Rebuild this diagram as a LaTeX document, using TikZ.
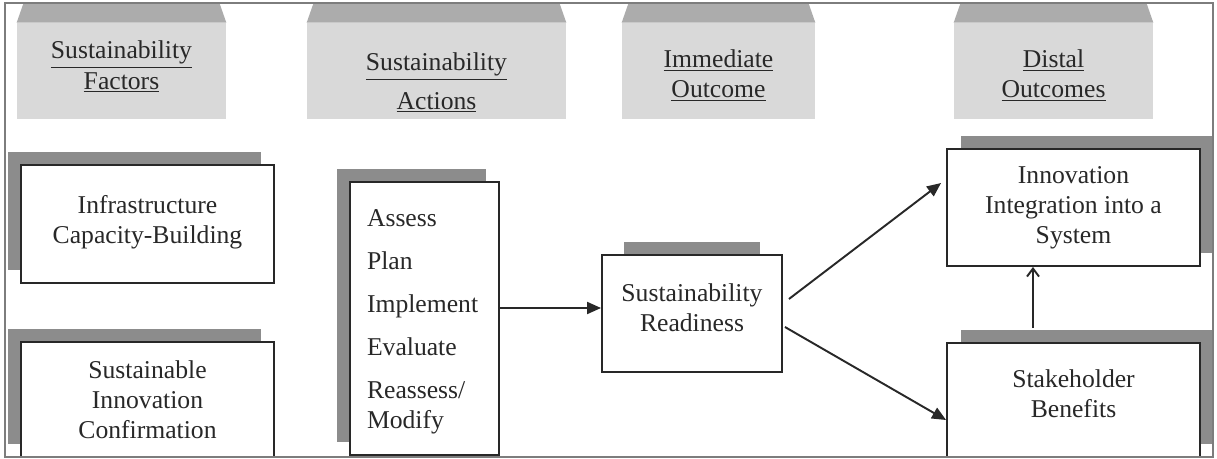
\documentclass[tikz,border=0pt]{standalone}
\usepackage{fontspec}
\setmainfont{Liberation Serif}
\usetikzlibrary{arrows.meta, calc, shadows}

\definecolor{headlight}{RGB}{217,217,217}
\definecolor{headdark}{RGB}{172,172,172}
\definecolor{shadegray}{RGB}{140,140,140}
\definecolor{framegray}{RGB}{125,125,125}
\definecolor{inkgray}{RGB}{40,40,40}

\tikzset{
  box/.style={draw=inkgray, fill=white, line width=1.1pt, align=center, text=inkgray, font=\fontsize{14.6}{17.1}\selectfont},
  lshadow/.style={drop shadow={shadow xshift=-0.26cm, shadow yshift=0.26cm, fill=shadegray, opacity=1}},
  rshadow/.style={drop shadow={shadow xshift=0.28cm, shadow yshift=0.26cm, fill=shadegray, opacity=1}},
  header/.style={fill=headlight, inner sep=0pt, minimum height=1.92cm},
  headtext/.style={align=center, text=inkgray, font=\fontsize{14.6}{17.1}\selectfont},
  arr/.style={draw=inkgray, line width=1.1pt, -{Triangle[length=0.28cm, width=0.24cm]}},
  openarr/.style={draw=inkgray, line width=1.1pt, -{Straight Barb[length=0.16cm, width=0.24cm]}}
}

\begin{document}
\begin{tikzpicture}[x=0.02cm, y=-0.02cm]
  \useasboundingbox (0,0) rectangle (1217,459);

  \begin{scope}
    \clip (5,3) rectangle (1213,457);

    \node[header, minimum width=4.18cm] (hfac) at (121.5,71) {};
    \node[header, minimum width=5.18cm] (hact) at (436.5,71) {};
    \node[header, minimum width=3.86cm] (himm) at (718.5,71) {};
    \node[header, minimum width=3.98cm] (hdis) at (1053.5,71) {};
    \foreach \h in {hfac, hact, himm, hdis} {
      \fill[headdark] (\h.north west) -- ($(\h.north west)+(7,-20)$) -- ($(\h.north east)+(-7,-20)$) -- (\h.north east) -- cycle;
    }

    \node[headtext] (hfac-t) at (121.5,67) {\underline{Sustainability}\\\underline{Factors}};
    \node[headtext] (hact-t) at (436.5,83) {\underline{Sustainability}\\[0.16cm]\underline{Actions}};
    \node[headtext] (himm-t) at (718.5,75.5) {\underline{Immediate}\\\underline{Outcome}};
    \node[headtext] (hdis-t) at (1053.5,75.5) {\underline{Distal}\\\underline{Outcomes}};

    \node[box, lshadow, minimum width=5.06cm, minimum height=2.36cm, text depth=0.2cm] (infra) at (147.5,224) {Infrastructure\\Capacity-Building};
    \node[box, lshadow, minimum width=5.06cm, minimum height=2.3cm] (confirm) at (147.5,399.5) {Sustainable\\Innovation\\Confirmation};
    \node[box, lshadow, minimum height=5.46cm, text width=2.3cm, inner xsep=0.34cm, text height=0.46cm, align=left] (act) at (424.5,318.5) {Assess\\[0.26cm]Plan\\[0.26cm]Implement\\[0.26cm]Evaluate\\[0.26cm]Reassess/\\Modify};
    \node[box, minimum width=3.6cm, minimum height=2.34cm, text depth=0.24cm] (ready) at (692,313.5) {Sustainability\\Readiness};
    \fill[shadegray] ($(ready.north west)+(23,0)$) rectangle ($(ready.north east)+(-23,-12)$);
    \node[box, rshadow, minimum width=5.06cm, minimum height=2.34cm] (integ) at (1073.5,207.5) {Innovation\\Integration into a\\System};
    \node[box, rshadow, minimum width=5.06cm, minimum height=2.28cm, text depth=0.24cm] (stake) at (1073.5,400) {Stakeholder\\Benefits};

    \draw[arr] ($(act.east)+(0,-10.5)$) -- ($(ready.west)+(0,-5.5)$);
    \draw[arr] ($(ready.east)+(6,-14.5)$) -- ($(integ.west)+(-5,-24.5)$);
    \draw[arr] ($(ready.east)+(2,13.5)$) -- ($(stake.west)+(0,20)$);
    \draw[openarr] ($(stake.north)+(-40.5,-14)$) coordinate (up) -- (up |- integ.south);
  \end{scope}

  \draw[framegray, line width=1.2pt] (5,3) rectangle (1213,457);
\end{tikzpicture}
\end{document}
